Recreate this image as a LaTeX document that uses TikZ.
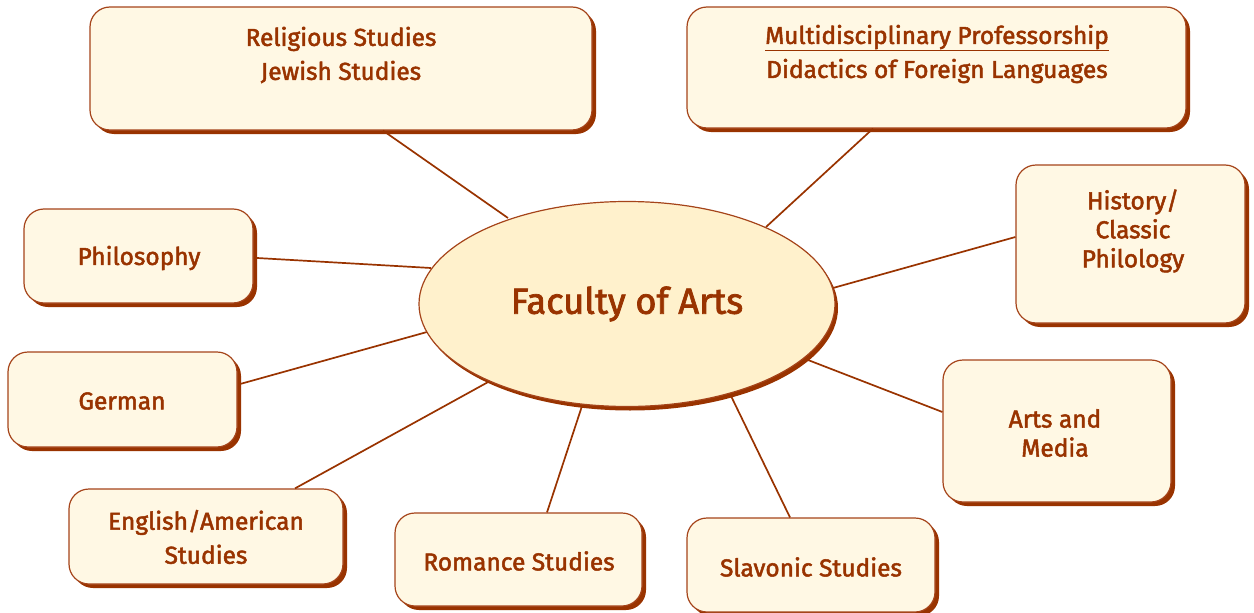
\documentclass[tikz,border=0pt]{standalone}
\usepackage{fontspec}
\setmainfont{Fira Sans}[FakeBold=2]
\usetikzlibrary{shadows,calc,shapes.geometric}
\definecolor{brn}{HTML}{993300}
\definecolor{edge}{HTML}{A5441A}
\definecolor{boxfill}{HTML}{FFF8E4}
\definecolor{ellfill}{HTML}{FFF1CC}
\begin{document}
\begin{tikzpicture}[x=1pt,y=-1pt,
  box/.style={rectangle, rounded corners=20pt, draw=edge, line width=1.2pt, fill=boxfill,
    inner sep=0pt, drop shadow={shadow xshift=4pt, shadow yshift=-4pt, opacity=1, fill=brn}},
  lbl/.style={text=brn, font=\fontsize{24.5}{34}\selectfont, align=center, inner sep=0pt},
  conn/.style={draw=brn, line width=1.7pt}]
\useasboundingbox (0,0) rectangle (1254,613);
\coordinate (c) at (627,304);
\node[box, minimum width=502pt, minimum height=123pt] (rel) at (341,68.5) {};
\node[box, minimum width=499pt, minimum height=121pt] (mul) at (936.5,67.5) {};
\node[box, minimum width=229pt, minimum height=158pt] (his) at (1130.5,244) {};
\node[box, minimum width=228pt, minimum height=142pt] (art) at (1057,431) {};
\node[box, minimum width=248pt, minimum height=94pt] (sla) at (811,565) {};
\node[box, minimum width=247pt, minimum height=93pt] (rom) at (518.5,559.5) {};
\node[box, minimum width=274pt, minimum height=95pt] (eng) at (206,536.5) {};
\node[box, minimum width=229pt, minimum height=95pt] (ger) at (122.5,399.5) {};
\node[box, minimum width=229pt, minimum height=94pt] (phi) at (138.5,256) {};
% connectors (drawn before the ellipse, which covers their inner ends)
\draw[conn] ($(rel.south)+(42,0)$) -- ($(c)+(-119,-86)$);
\draw[conn] ($(mul.south)+(-63.5,0)$) -- ($(c)+(139,-77)$);
\draw[conn] ($(his.west)+(0,-7)$) -- ($(c)+(206,-16)$);
\draw[conn] ($(art.west)+(0,-19)$) -- ($(c)+(181,56)$);
\draw[conn] ($(sla.north)+(-21,0)$) -- ($(c)+(104,92)$);
\draw[conn] ($(rom.north)+(28.5,0)$) -- ($(c)+(-45,102)$);
\draw[conn] ($(eng.north)+(89,0)$) -- ($(c)+(-137,77)$);
\draw[conn] ($(ger.east)+(2.5,-15.5)$) -- ($(c)+(-200,28)$);
\draw[conn] ($(phi.east)+(3.5,2)$) -- ($(c)+(-196,-36)$);
\node[ellipse, draw=edge, line width=1.2pt, fill=ellfill, minimum width=416pt, minimum height=205pt, inner sep=0pt,
  drop shadow={shadow xshift=3pt, shadow yshift=-4pt, opacity=1, fill=brn}] (fac) at (c) {};
\node[lbl, font=\fontsize{36.3}{34}\selectfont] (fact) at (fac.center) {Faculty of Arts};
\node[lbl] (relt) at (341,55) {Religious Studies\\Jewish Studies};
\node[lbl] (mult) at (937,54) {\underline{Multidisciplinary Professorship}\\Didactics of Foreign Languages};
\node[lbl, font=\fontsize{24.5}{29}\selectfont] (hist) at (1133,231) {History/\\Classic\\Philology};
\node[lbl, font=\fontsize{24.5}{29}\selectfont] (artt) at (1055,433) {Arts and\\Media};
\node[lbl] (slat) at (811,567) {Slavonic Studies};
\node[lbl] (romt) at (519,561) {Romance Studies};
\node[lbl] (engt) at (206,537) {English/American\\Studies};
\node[lbl] (gert) at (122,401) {German};
\node[lbl] (phit) at (139,258) {Philosophy};
\end{tikzpicture}
\end{document}
